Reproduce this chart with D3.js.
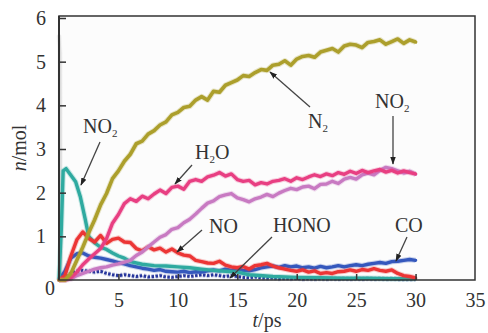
<!DOCTYPE html>
<html><head><meta charset="utf-8">
<script src="https://cdn.jsdelivr.net/npm/d3@7"></script>
<style>
html,body{margin:0;padding:0;background:#fff;}
svg{display:block;}
svg text{font-family:"Liberation Serif","Times New Roman",serif;}
</style></head>
<body><svg id="c" width="488" height="333"></svg>
<script>
// ---- data ----
const tGrid = [0,0.5,1,1.5,2,2.5,3,3.5,4,4.5,5,5.5,6,6.5,7,7.5,8,8.5,9,9.5,10,10.5,11,11.5,12,12.5,13,13.5,14,14.5,15,15.5,16,16.5,17,17.5,18,18.5,19,19.5,20,20.5,21,21.5,22,22.5,23,23.5,24,24.5,25,25.5,26,26.5,27,27.5,28,28.5,29,29.5,30];
const nN2   = [0,0,0.15,0.45,0.75,1.08,1.38,1.72,1.98,2.32,2.5,2.72,2.88,3.12,3.18,3.34,3.42,3.55,3.62,3.78,3.84,3.95,3.98,4.12,4.2,4.12,4.32,4.3,4.46,4.52,4.58,4.68,4.66,4.75,4.82,4.8,4.92,4.94,5.02,4.92,5.06,5.12,5.14,5.1,5.22,5.26,5.3,5.22,5.36,5.4,5.38,5.32,5.44,5.46,5.5,5.4,5.46,5.52,5.42,5.5,5.45];
const nH2O  = [0,0,0.05,0.18,0.35,0.48,0.6,0.72,0.95,1.3,1.5,1.75,1.86,1.8,1.92,1.86,1.97,2.06,1.98,2.12,2.15,2.08,2.26,2.3,2.26,2.36,2.4,2.46,2.38,2.43,2.3,2.26,2.28,2.18,2.23,2.2,2.26,2.28,2.32,2.26,2.34,2.3,2.36,2.41,2.37,2.43,2.39,2.46,2.42,2.49,2.44,2.51,2.46,2.5,2.53,2.47,2.51,2.45,2.5,2.46,2.43];
const nNO2b = [0,0,0.02,0.1,0.15,0.2,0.25,0.28,0.3,0.34,0.37,0.41,0.45,0.56,0.64,0.76,0.87,0.98,1.04,1.16,1.2,1.31,1.39,1.51,1.64,1.76,1.81,1.91,1.95,1.98,1.88,1.84,1.79,1.86,1.9,1.96,1.91,1.99,2.05,2.1,2.07,2.13,2.15,2.09,2.19,2.2,2.26,2.21,2.31,2.35,2.31,2.41,2.45,2.41,2.51,2.58,2.55,2.5,2.45,2.49,2.42];
const nNO   = [0,0.1,0.55,0.92,1.1,0.95,0.87,1.02,0.84,0.93,0.96,0.87,0.86,0.72,0.67,0.76,0.69,0.73,0.64,0.71,0.62,0.57,0.55,0.45,0.42,0.39,0.38,0.43,0.34,0.3,0.28,0.31,0.25,0.33,0.35,0.38,0.32,0.28,0.25,0.22,0.2,0.23,0.18,0.21,0.15,0.17,0.15,0.19,0.2,0.23,0.2,0.24,0.22,0.26,0.22,0.2,0.23,0.15,0.1,0.08,0.05];
const nCO   = [0,0.2,0.5,0.6,0.62,0.55,0.52,0.5,0.47,0.44,0.4,0.37,0.33,0.3,0.27,0.25,0.22,0.24,0.2,0.19,0.18,0.2,0.17,0.19,0.18,0.21,0.23,0.21,0.25,0.22,0.26,0.22,0.21,0.24,0.28,0.3,0.32,0.29,0.33,0.3,0.32,0.28,0.3,0.27,0.31,0.28,0.3,0.33,0.3,0.33,0.35,0.33,0.36,0.38,0.4,0.38,0.42,0.43,0.45,0.47,0.45];
const nHONO = [0,0.05,0.15,0.2,0.22,0.2,0.18,0.2,0.15,0.12,0.1,0.12,0.1,0.08,0.1,0.07,0.08,0.1,0.07,0.06,0.08,0.1,0.08,0.1,0.12,0.1,0.12,0.1,0.08,0.1,0.08,0.06,0.05,0.07,0.05,0.04,0.05,0.03,0.04,0.03,0.04,0.02,0.03,0.02,0.03,0.02,0.03,0.02,0.03,0.02,0.03,0.02,0.03,0.02,0.03,0.02,0.03,0.02,0.02,0.02,0.02];
const tNO2a = [0,0.2,0.35,0.6,1.0,1.4,1.8,2.2,2.5,3.0,3.5,4.0,4.5,5.0,5.5,6,7,8,9,10,11,12,13,14,15,16,18,20,22,24,26,28,30];
const nNO2a = [0,1.2,2.5,2.55,2.4,2.25,1.9,1.4,1.0,0.85,0.75,0.7,0.62,0.55,0.5,0.42,0.36,0.33,0.32,0.3,0.28,0.25,0.22,0.2,0.18,0.12,0.08,0.06,0.05,0.04,0.04,0.03,0.03];
const tInit = [0,0.08,0.15];
const nInit = [5.6,5.2,0];

const xTicks = [5,10,15,20,25,30,35];
const yTicks = [1,2,3,4,5,6];

const series = [
  {name:"init", t:tInit, n:nInit, color:"#dcdcdc", w:3},
  {name:"HONO", t:tGrid, n:nHONO, color:"#27369c", w:3, dash:"2.5,1.5"},
  {name:"CO",   t:tGrid, n:nCO,   color:"#3558bd", w:3.4},
  {name:"NO2a", t:tNO2a, n:nNO2a, color:"#2faaa0", w:3.4},
  {name:"NO",   t:tGrid, n:nNO,   color:"#ec3535", w:3.4},
  {name:"NO2b", t:tGrid, n:nNO2b, color:"#c87ac2", w:3.4},
  {name:"H2O",  t:tGrid, n:nH2O,  color:"#e83f82", w:3.4},
  {name:"N2",   t:tGrid, n:nN2,   color:"#ac9f2c", w:3.6}
];

const labels = [
  {parts:[["NO"],["2",1]], x:83, y:133, ax1:100, ay1:142, ax2:81, ay2:185},
  {parts:[["H"],["2",1],["O"]], x:195, y:159, ax1:192, ay1:165, ax2:175, ay2:184},
  {parts:[["N"],["2",1]], x:308, y:128, ax1:310, ay1:107, ax2:270, ay2:72},
  {parts:[["NO"],["2",1]], x:375, y:108, ax1:393, ay1:116, ax2:393, ay2:164},
  {parts:[["NO"]], x:209, y:233, ax1:202, ay1:230, ax2:177, ay2:252},
  {parts:[["HONO"]], x:273, y:232, ax1:272, ay1:237, ax2:230, ay2:278},
  {parts:[["CO"]], x:395, y:232, ax1:407, ay1:237, ax2:396, ay2:261}
];

// ---- chart ----
const svg = d3.select("#c");
const L=59, R=475, T=16, B=280;
const FONT = '"Liberation Serif","Times New Roman",serif';
const x = d3.scaleLinear().domain([0,35]).range([L,R]);
const y = d3.scaleLinear().domain([0,6]).range([B,18]);

svg.append("rect").attr("x",0).attr("y",0).attr("width",488).attr("height",333).attr("fill","#fff");
svg.append("rect").attr("x",L).attr("y",T).attr("width",R-L).attr("height",B-T).attr("fill","#fcfcfc");

const line = d3.line().x(d=>x(d[0])).y(d=>y(d[1]));
series.forEach(s=>{
  const pts = s.t.map((t,i)=>[t,s.n[i]]);
  // soft halo
  svg.append("path").datum(pts).attr("d",line)
    .attr("fill","none").attr("stroke",s.color).attr("stroke-width",s.w+2)
    .attr("stroke-linejoin","round").attr("opacity",0.25)
    .attr("stroke-dasharray",s.dash||null);
  svg.append("path").datum(pts).attr("d",line)
    .attr("fill","none").attr("stroke",s.color).attr("stroke-width",s.w)
    .attr("stroke-linejoin","round").attr("stroke-linecap", s.dash?"butt":"round")
    .attr("stroke-dasharray",s.dash||null);
});

// axes
const xa = svg.append("g").attr("transform",`translate(0,${B})`)
  .call(d3.axisBottom(x).tickValues(xTicks).tickFormat(d3.format("d")).tickSizeInner(-6).tickSizeOuter(0).tickPadding(13));
const ya = svg.append("g").attr("transform",`translate(${L},0)`)
  .call(d3.axisLeft(y).tickValues(yTicks).tickFormat(d3.format("d")).tickSizeInner(-7).tickSizeOuter(0).tickPadding(13));
[xa,ya].forEach(g=>{
  g.attr("font-family",null).attr("font-size",null);
  g.select(".domain").remove();
  g.selectAll(".tick line").attr("stroke","#333").attr("stroke-width",1.5);
  g.selectAll(".tick text").attr("fill","#333").style("font-size","20px").style("font-family",FONT);
});
xa.selectAll(".tick").filter(d=>d===35).select("line").remove();
svg.append("text").attr("x",50).attr("y",295).attr("text-anchor","middle")
  .style("font-size","20px").attr("fill","#333").text("0");

// frame
svg.append("rect").attr("x",L).attr("y",T).attr("width",R-L).attr("height",B-T)
  .attr("fill","none").attr("stroke","#333").attr("stroke-width",1.5);
svg.append("line").attr("x1",L).attr("x2",L).attr("y1",T).attr("y2",B).attr("stroke","#333").attr("stroke-width",2);

// axis titles
const yt = svg.append("text").attr("transform","translate(26,148) rotate(-90)")
  .attr("text-anchor","middle").style("font-size","20px").attr("fill","#333");
yt.append("tspan").attr("font-style","italic").text("n");
yt.append("tspan").text("/mol");
const xt = svg.append("text").attr("x",267).attr("y",327)
  .attr("text-anchor","middle").style("font-size","20px").attr("fill","#333");
xt.append("tspan").attr("font-style","italic").text("t");
xt.append("tspan").text("/ps");

// annotations
const defs = svg.append("defs");
defs.append("marker").attr("id","ah").attr("viewBox","0 0 10 10").attr("refX",9).attr("refY",5)
  .attr("markerWidth",6).attr("markerHeight",6).attr("orient","auto")
  .append("path").attr("d","M0,1.5L10,5L0,8.5Z").attr("fill","#222");
labels.forEach(l=>{
  svg.append("line").attr("x1",l.ax1).attr("y1",l.ay1).attr("x2",l.ax2).attr("y2",l.ay2)
    .attr("stroke","#444").attr("stroke-width",1.3).attr("marker-end","url(#ah)");
  const t = svg.append("text").attr("x",l.x).attr("y",l.y).style("font-size","20px").attr("fill","#333");
  l.parts.forEach(p=>{
    if(p[1]) t.append("tspan").style("font-size","11px").attr("dy",4).text(p[0]);
    else {
      const ts = t.append("tspan").text(p[0]);
      if(t.selectAll("tspan").size()>1) ts.attr("dy",-4);
    }
  });
});
</script></body></html>
